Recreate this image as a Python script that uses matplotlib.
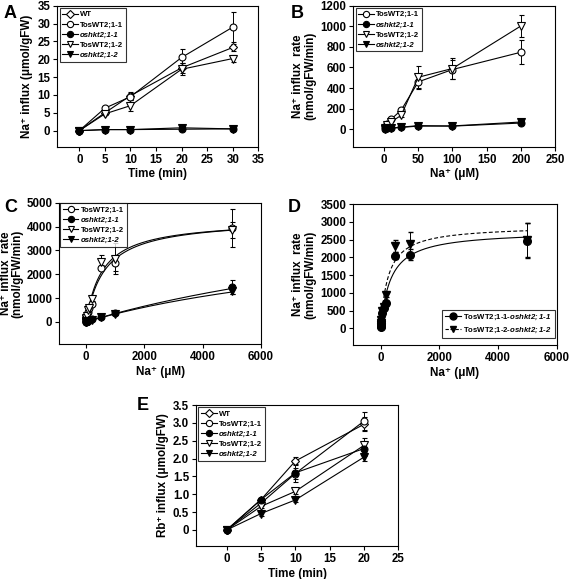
import numpy as np
import matplotlib
matplotlib.use("Agg")
import matplotlib.pyplot as plt
from matplotlib.lines import Line2D

plt.rcParams['font.family'] = ['Liberation Sans', 'DejaVu Sans']
plt.rcParams['font.weight'] = 'bold'
plt.rcParams['axes.linewidth'] = 0.8
plt.rcParams['mathtext.fontset'] = 'custom'
plt.rcParams['mathtext.bfit'] = 'Liberation Sans:italic:bold'
plt.rcParams['mathtext.rm'] = 'Liberation Sans:bold'

# ---- panel A: Na+ influx vs time ----
time_a = [0, 5, 10, 20, 30]
a_wt = [0, 5.0, 9.8, 17.6, 23.3]
a_wt_err = [0, 0.4, 1.0, 1.4, 1.0]
a_tos11 = [0, 6.3, 9.5, 20.5, 29.0]
a_tos11_err = [0, 0.6, 1.0, 2.5, 4.3]
a_osh11 = [0, 0.3, 0.3, 0.4, 0.5]
a_osh11_err = [0, 0.1, 0.1, 0.2, 0.2]
a_tos12 = [0, 4.7, 7.0, 17.2, 20.2]
a_tos12_err = [0, 0.4, 1.5, 1.7, 1.1]
a_osh12 = [0, 0.3, 0.3, 0.8, 0.5]
a_osh12_err = [0, 0.1, 0.1, 0.3, 0.2]

# ---- panel B: low affinity range ----
na_b = [1, 5, 10, 25, 50, 100, 200]
b_tos11 = [20, 50, 95, 185, 460, 580, 748]
b_tos11_err = [5, 10, 15, 20, 60, 90, 115]
b_osh11 = [5, 8, 10, 20, 35, 30, 60]
b_osh11_err = [2, 2, 3, 5, 8, 8, 10]
b_tos12 = [15, 40, 70, 135, 505, 590, 1003]
b_tos12_err = [5, 10, 15, 20, 110, 100, 110]
b_osh12 = [5, 8, 10, 18, 30, 32, 70]
b_osh12_err = [2, 2, 3, 5, 8, 8, 10]

# ---- panel C: full range ----
na_c = [1, 5, 10, 25, 50, 100, 200, 500, 1000, 5000]
c_tos11 = [30, 80, 150, 220, 420, 560, 750, 2280, 2450, 3920]
c_tos11_err = [5, 10, 20, 30, 40, 50, 80, 120, 330, 800]
c_osh11 = [5, 10, 15, 25, 40, 60, 100, 220, 350, 1450]
c_osh11_err = [2, 3, 4, 5, 8, 10, 15, 30, 40, 300]
c_tos12 = [40, 100, 180, 260, 500, 600, 950, 2500, 2650, 3850]
c_tos12_err = [5, 10, 20, 30, 40, 50, 80, 300, 650, 350]
c_osh12 = [5, 10, 15, 25, 40, 55, 90, 200, 330, 1300]
c_osh12_err = [2, 3, 4, 5, 8, 10, 15, 30, 40, 150]
# Michaelis-Menten fit parameters (Vmax, Km)
c_fit_tos11 = (4340, 640)
c_fit_tos12 = (4290, 560)
c_fit_osh11 = (5600, 15000)
c_fit_osh12 = (4130, 11500)

# ---- panel D: difference ----
na_d = [1, 5, 10, 25, 50, 100, 200, 500, 1000, 5000]
d_diff1 = [30, 70, 120, 200, 430, 560, 700, 2050, 2070, 2470]
d_diff1_err = [5, 10, 15, 20, 30, 40, 60, 100, 150, 500]
d_diff2 = [40, 90, 150, 230, 480, 600, 930, 2320, 2370, 2480]
d_diff2_err = [5, 10, 15, 20, 30, 40, 60, 180, 350, 480]
d_fit1 = (2744, 340)
d_fit2 = (2890, 257)

# ---- panel E: Rb+ influx vs time ----
time_e = [0, 5, 10, 20]
e_wt = [0, 0.85, 1.93, 2.96]
e_wt_err = [0, 0.05, 0.12, 0.2]
e_tos11 = [0, 0.75, 1.58, 3.05]
e_tos11_err = [0, 0.05, 0.15, 0.25]
e_osh11 = [0, 0.85, 1.60, 2.28]
e_osh11_err = [0, 0.05, 0.25, 0.2]
e_tos12 = [0, 0.66, 1.08, 2.37]
e_tos12_err = [0, 0.05, 0.08, 0.2]
e_osh12 = [0, 0.46, 0.84, 2.04]
e_osh12_err = [0, 0.06, 0.06, 0.12]

labels5 = ['WT', 'TosWT2;1-1', 'oshkt2;1-1', 'TosWT2;1-2', 'oshkt2;1-2']
styles = {
    'WT': dict(marker='D', mfc='white', ms=4.2),
    'TosWT2;1-1': dict(marker='o', mfc='white', ms=5),
    'oshkt2;1-1': dict(marker='o', mfc='black', ms=5),
    'TosWT2;1-2': dict(marker='v', mfc='white', ms=5.5),
    'oshkt2;1-2': dict(marker='v', mfc='black', ms=5.5),
}
TICK_FS = 8.3
LAB_FS = 8.4
LEG_FS = 5.6


def series(ax, x, y, err, name, line=True):
    st = styles[name]
    ax.errorbar(x, y, yerr=err, color='black', lw=0.8 if line else 0,
                marker=st['marker'], mfc=st['mfc'], mec='black', ms=st['ms'],
                mew=0.8, capsize=1.8, elinewidth=0.7, capthick=0.7)


def mm(ax, fit, xmax, ls='-'):
    xs = np.linspace(0, xmax, 400)
    v, k = fit
    ax.plot(xs, v * xs / (k + xs), color='black', lw=0.8, ls=ls)


def style_axes(ax, xlim, ylim, xticks, yticks, xlabel, ylabel):
    ax.set_xlim(*xlim)
    ax.set_ylim(*ylim)
    ax.set_xticks(xticks)
    ax.set_yticks(yticks)
    ax.tick_params(direction='out', length=3, width=0.8, labelsize=TICK_FS,
                   top=False, right=False, pad=2)
    ax.set_xlabel(xlabel, fontsize=LAB_FS, fontweight='bold', labelpad=2)
    ax.set_ylabel(ylabel, fontsize=LAB_FS, fontweight='bold', labelpad=3,
                  linespacing=1.0)


def legend(ax, names, loc, pad=0.3):
    handles = []
    for n in names:
        st = styles[n]
        handles.append(Line2D([0], [0], color='black', lw=0.8, marker=st['marker'],
                              mfc=st['mfc'], mec='black', ms=st['ms'] * 0.9, mew=0.8))
    leg = ax.legend(handles, names, loc=loc, fontsize=LEG_FS, frameon=True,
                    fancybox=False, edgecolor='black', handlelength=2.0,
                    handletextpad=0.3, borderpad=0.35, labelspacing=0.35,
                    borderaxespad=pad)
    leg.get_frame().set_linewidth(0.8)
    for t, n in zip(leg.get_texts(), names):
        t.set_fontweight('bold')
        if n.startswith('osh'):
            t.set_fontstyle('italic')
    return leg


fig = plt.figure(figsize=(5.69, 5.79), dpi=100)

# A
axA = fig.add_axes([0.1007, 0.7466, 0.3533, 0.2435])
series(axA, time_a, a_wt, a_wt_err, 'WT')
series(axA, time_a, a_tos11, a_tos11_err, 'TosWT2;1-1')
series(axA, time_a, a_tos12, a_tos12_err, 'TosWT2;1-2')
series(axA, time_a, a_osh12, a_osh12_err, 'oshkt2;1-2')
series(axA, time_a, a_osh11, a_osh11_err, 'oshkt2;1-1')
style_axes(axA, (-4.3, 35), (-4.5, 35), range(0, 36, 5), range(0, 36, 5),
           'Time (min)', 'Na⁺ influx (μmol/gFW)')
legend(axA, labels5, 'upper left')

# B
axB = fig.add_axes([0.6209, 0.7466, 0.3545, 0.2435])
series(axB, na_b, b_tos11, b_tos11_err, 'TosWT2;1-1')
series(axB, na_b, b_tos12, b_tos12_err, 'TosWT2;1-2')
series(axB, na_b, b_osh12, b_osh12_err, 'oshkt2;1-2')
series(axB, na_b, b_osh11, b_osh11_err, 'oshkt2;1-1')
style_axes(axB, (-45, 250), (-170, 1200), range(0, 251, 50), range(0, 1201, 200),
           'Na⁺ (μM)', 'Na⁺ influx  rate\n(nmol/gFW/min)')
legend(axB, labels5[1:], 'upper left')

# C
axC = fig.add_axes([0.1042, 0.4059, 0.3545, 0.2440])
mm(axC, c_fit_tos11, 5000)
mm(axC, c_fit_tos12, 5000)
mm(axC, c_fit_osh11, 5000)
mm(axC, c_fit_osh12, 5000)
series(axC, na_c, c_tos11, c_tos11_err, 'TosWT2;1-1', line=False)
series(axC, na_c, c_tos12, c_tos12_err, 'TosWT2;1-2', line=False)
series(axC, na_c, c_osh12, c_osh12_err, 'oshkt2;1-2', line=False)
series(axC, na_c, c_osh11, c_osh11_err, 'oshkt2;1-1', line=False)
style_axes(axC, (-920, 6000), (-930, 5000), range(0, 6001, 2000), range(0, 5001, 1000),
           'Na⁺ (μM)', 'Na⁺ influx  rate\n(nmol/gFW/min)')
axC.yaxis.labelpad = 2
legend(axC, labels5[1:], 'upper left', pad=0.1)

# D
axD = fig.add_axes([0.6209, 0.4041, 0.3575, 0.2435])
mm(axD, d_fit1, 5000)
mm(axD, d_fit2, 5000, ls=(0, (3.5, 2)))
axD.errorbar(na_d, d_diff2, yerr=d_diff2_err, color='black', lw=0, marker='v',
             mfc='black', mec='black', ms=5.5, capsize=1.8, elinewidth=0.7)
axD.errorbar(na_d, d_diff1, yerr=d_diff1_err, color='black', lw=0, marker='o',
             mfc='black', mec='black', ms=5.5, capsize=1.8, elinewidth=0.7)
style_axes(axD, (-930, 6000), (-470, 3500), range(0, 6001, 2000), range(0, 3501, 500),
           'Na⁺ (μM)', 'Na⁺ influx  rate\n(nmol/gFW/min)')
hD = [Line2D([0], [0], color='black', lw=0.8, marker='o', mfc='black', ms=5),
      Line2D([0], [0], color='black', lw=0.8, ls=(0, (3, 1.5)), marker='v', mfc='black', ms=5)]
legD = axD.legend(hD, ['TosWT2;1-1-$\\mathbfit{oshkt2;1}$-$\\mathbfit{1}$',
                       'TosWT2;1-2-$\\mathbfit{oshkt2;1}$-$\\mathbfit{2}$'],
                  loc='lower right', bbox_to_anchor=(0.993, 0.05),
                  fontsize=LEG_FS, fancybox=False, edgecolor='black',
                  handlelength=2.0, handletextpad=0.3, borderpad=0.4,
                  labelspacing=0.45, borderaxespad=0)
legD.get_frame().set_linewidth(0.8)
for t in legD.get_texts():
    t.set_fontweight('bold')

# E
axE = fig.add_axes([0.3445, 0.0570, 0.3555, 0.2435])
series(axE, time_e, e_wt, e_wt_err, 'WT')
series(axE, time_e, e_tos11, e_tos11_err, 'TosWT2;1-1')
series(axE, time_e, e_tos12, e_tos12_err, 'TosWT2;1-2')
series(axE, time_e, e_osh12, e_osh12_err, 'oshkt2;1-2')
series(axE, time_e, e_osh11, e_osh11_err, 'oshkt2;1-1')
e_ticks = np.arange(0, 3.51, 0.5)
style_axes(axE, (-4.47, 25), (-0.45, 3.5), range(0, 26, 5), e_ticks,
           'Time (min)', 'Rb⁺ influx (μmol/gFW)')
axE.set_yticklabels(['0'] + ['{:.1f}'.format(t) for t in e_ticks[1:]])
legend(axE, labels5, 'upper left')

# panel letters
for txt, x, y in [('A', 4, 18), ('B', 291, 18), ('C', 4, 212), ('D', 288, 212), ('E', 137, 410)]:
    fig.text(x / 569, 1 - y / 579, txt, fontsize=13, fontweight='bold', ha='left', va='baseline')

fig.savefig('out.png', dpi=100)
